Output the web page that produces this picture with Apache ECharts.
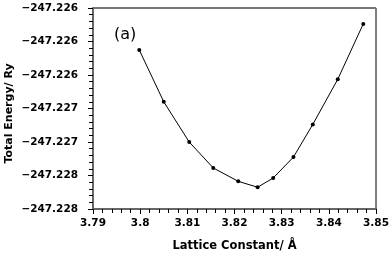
<!DOCTYPE html>
<html>
<head>
<meta charset="utf-8">
<script src="https://cdn.jsdelivr.net/npm/echarts@6/dist/echarts.min.js"></script>
<style>html,body{margin:0;padding:0;background:#fff}#c{width:392px;height:255px}</style>
</head>
<body>
<div id="c"></div>
<script>
var latticeConstant = [3.7998, 3.8050, 3.8104, 3.8155, 3.8208, 3.8249, 3.8282, 3.8325, 3.8366, 3.8419, 3.8473];
var totalEnergy = [-247.22610, -247.22672, -247.22720, -247.22751, -247.22767, -247.22774, -247.22763, -247.22738, -247.22699, -247.22645, -247.22579];
var xTicks = {min: 3.79, max: 3.85, interval: 0.01};
var yTicks = {min: -247.228, max: -247.2256, interval: 0.0004};
var panelLabel = '(a)';

var chart = echarts.init(document.getElementById('c'), null, {renderer: 'canvas'});
var data = latticeConstant.map(function (x, i) { return [x, totalEnergy[i]]; });
chart.setOption({
  animation: false,
  grid: {left: 93, right: 16, top: 8, bottom: 46, containLabel: false, outerBoundsMode: 'none', show: true, borderColor: '#000', borderWidth: 1},
  graphic: [{type: 'text', left: 114, top: 27, style: {text: panelLabel, fontFamily: 'DejaVu Sans', fontSize: 16, fill: '#000'}},
    {type: 'line', shape: {x1: 93, y1: 8, x2: 376, y2: 8}, style: {stroke: '#777', lineWidth: 2}}],
  xAxis: {
    type: 'value', min: xTicks.min, max: xTicks.max, interval: xTicks.interval,
    name: 'Lattice Constant/ Å', nameLocation: 'middle', nameGap: 31, nameMoveOverlap: false,
    nameTextStyle: {fontFamily: 'DejaVu Sans', fontWeight: 'bold', fontSize: 11.5, color: '#000'},
    axisLine: {onZero: false, lineStyle: {color: '#666', width: 2}},
    axisTick: {inside: false, length: 5, lineStyle: {color: '#000'}},
    minorTick: {show: true, splitNumber: 5, length: 4, lineStyle: {color: '#000'}},
    axisLabel: {margin: 9, formatter: function (v) { return String(+v.toFixed(2)); }, fontFamily: 'DejaVu Sans', fontWeight: 'bold', fontSize: 10.5, color: '#000'},
    splitLine: {show: false}
  },
  yAxis: {
    type: 'value', min: yTicks.min, max: yTicks.max, interval: yTicks.interval,
    name: 'Total Energy/ Ry', nameLocation: 'middle', nameGap: 78, nameMoveOverlap: false,
    nameTextStyle: {fontFamily: 'DejaVu Sans', fontWeight: 'bold', fontSize: 11, color: '#000', padding: [0, 10, 0, 0]},
    axisLine: {onZero: false, lineStyle: {color: '#666', width: 2}},
    axisTick: {inside: false, length: 5, lineStyle: {color: '#000'}},
    minorTick: {show: true, splitNumber: 5, length: 4, lineStyle: {color: '#000'}},
    axisLabel: {margin: 15, formatter: function (v) { return v.toFixed(3).replace('-', '\u2212'); }, fontFamily: 'DejaVu Sans', fontWeight: 'bold', fontSize: 10.5, color: '#000'},
    splitLine: {show: false}
  },
  series: [{
    type: 'line', data: data, symbol: 'circle', symbolSize: 4,
    lineStyle: {color: '#000', width: 1}, itemStyle: {color: '#000'}
  }]
});
</script>
</body>
</html>
